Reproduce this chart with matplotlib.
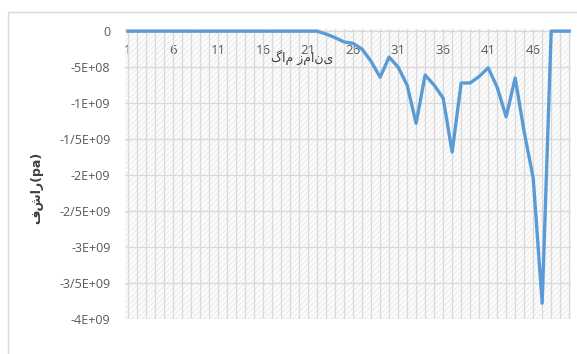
import matplotlib
matplotlib.use("Agg")
import matplotlib.pyplot as plt
from matplotlib.patches import Rectangle
from matplotlib.ticker import FixedLocator, NullFormatter

# Pressure per time step
steps = list(range(1, 51))
pressure = [
    0, 0, 0, 0, 0, 0, 0, 0, 0, 0,
    0, 0, 0, 0, 0, 0, 0, 0, 0, 0,
    0, 0, -4e7, -9e7, -1.5e8, -1.7e8, -2.5e8, -4.2e8, -6.4e8, -3.6e8,
    -5.0e8, -7.5e8, -1.28e9, -6.1e8, -7.5e8, -9.3e8, -1.68e9, -7.2e8, -7.2e8, -6.3e8,
    -5.1e8, -7.8e8, -1.19e9, -6.5e8, -1.4e9, -2.04e9, -3.78e9, 0, 0, 0,
]
x_tick_steps = [1, 6, 11, 16, 21, 26, 31, 36, 41, 46]
y_tick_values = [0, -5e8, -1e9, -1.5e9, -2e9, -2.5e9, -3e9, -3.5e9, -4e9]
y_tick_labels = ["0", "-5E+08", "-1E+09", "-1/5E+09", "-2E+09",
                 "-2/5E+09", "-3E+09", "-3/5E+09", "-4E+09"]
x_title = "گام زمانی"
y_title = "فشار(pa)"

plt.rcParams["font.family"] = ["Open Sans", "DejaVu Sans"]
plt.rcParams["hatch.linewidth"] = 0.45

W, H = 577, 354
fig = plt.figure(figsize=(W / 100, H / 100), dpi=100)
fig.patch.set_facecolor("white")

# chart frame
fig.add_artist(Rectangle((8 / W, -0.05), 1.1, 1 - 12 / H + 0.05,
                         transform=fig.transFigure, fill=False,
                         edgecolor="#d9d9d9", linewidth=1.0))

ax = fig.add_axes([125 / W, 35 / H, 446 / W, 290 / H])
ymin, ymax = -4e9, 0.03e9
ax.set_xlim(0.67, 50.2)
ax.set_ylim(ymin, ymax)
for s in ax.spines.values():
    s.set_visible(False)

# patterned plot area
ax.add_patch(Rectangle((0, 0), 1, 1, transform=ax.transAxes,
                       facecolor="#fbfbfb", edgecolor="#e6e6e6",
                       hatch="//////", linewidth=0, zorder=0))

ax.xaxis.set_major_locator(FixedLocator(steps))
ax.xaxis.set_major_formatter(NullFormatter())
ax.set_yticks(y_tick_values)
ax.set_yticklabels(y_tick_labels)
ax.tick_params(axis="x", length=0, bottom=False)
ax.tick_params(axis="y", length=0, pad=10.5, labelsize=9, labelcolor="#595959")
ax.grid(True, color="#d9d9d9", linewidth=0.9, zorder=1)
ax.set_axisbelow(True)

# category axis crossing at zero
loc = (0 - ymin) / (ymax - ymin)
sec = ax.secondary_xaxis(loc)
sec.xaxis.set_ticks_position("bottom")
sec.set_xticks(x_tick_steps)
sec.set_xticklabels([str(v) for v in x_tick_steps])
sec.tick_params(axis="x", length=0, pad=9.0, labelsize=9.5, labelcolor="#595959",
                labelbottom=True, labeltop=False, bottom=True, top=False)
for k in ("top", "bottom", "left", "right"):
    sec.spines[k].set_visible(False)

ax.plot(steps, pressure, color="#5B9BD5", linewidth=2.4, zorder=5,
        solid_joinstyle="round")

fig.text(302 / W, 1 - 57 / H, x_title, ha="center", va="center",
         fontsize=9, color="#404040", family=["DejaVu Sans"])
fig.text(37 / W, 1 - 188 / H, y_title, ha="center", va="center",
         rotation=90, fontsize=9, fontweight="bold", color="#404040",
         family=["DejaVu Sans"])

fig.savefig("out.png", dpi=100)
